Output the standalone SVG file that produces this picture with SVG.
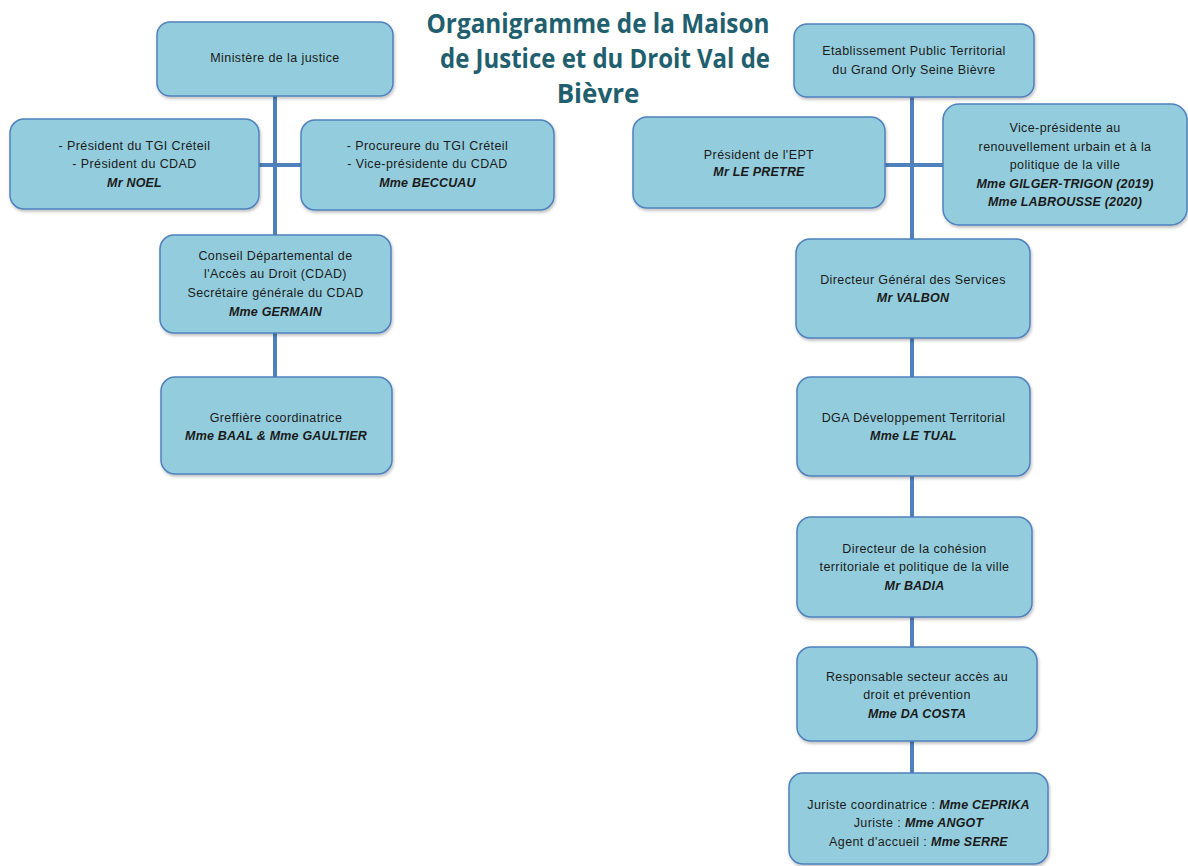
<svg xmlns="http://www.w3.org/2000/svg" width="1188" height="866" viewBox="0 0 1188 866">
<defs>
<filter id="sh" x="-5%" y="-5%" width="110%" height="115%">
<feDropShadow dx="1" dy="2" stdDeviation="1.5" flood-color="#000" flood-opacity="0.25"/>
</filter>
<style>
.box{fill:#93cddd;stroke:#4f81bd;stroke-width:1.5;filter:url(#sh)}
.t{font-family:"Liberation Sans",Arial,sans-serif;font-size:12.5px;letter-spacing:0.4px;fill:#1a1a1a;text-anchor:middle}
.b{font-weight:bold;font-style:italic;letter-spacing:0.2px}
.con{stroke:#4f81bd;stroke-width:4;fill:none}
.title{font-family:"Open Sans","Liberation Sans",sans-serif;font-weight:bold;font-size:26px;fill:#215f6e;text-anchor:middle}
</style>
</defs>
<rect width="1188" height="866" fill="#fff"/>
<g id="title">
<text class="title" x="598" y="33" textLength="343" lengthAdjust="spacingAndGlyphs">Organigramme de la Maison</text>
<text class="title" x="605" y="68" textLength="330" lengthAdjust="spacingAndGlyphs">de Justice et du Droit Val de</text>
<text class="title" x="598" y="103">Bièvre</text>
</g>
<g id="connectors">
<line class="con" x1="275" y1="96" x2="275" y2="377"/>
<line class="con" x1="259" y1="165" x2="301" y2="165"/>
<line class="con" x1="912" y1="97" x2="912" y2="773"/>
<line class="con" x1="885" y1="165" x2="943" y2="165"/>
</g>
<g id="ministere">
<rect class="box" x="157" y="22" width="236" height="74" rx="13"/>
<text class="t" x="275" y="62">Ministère de la justice</text>
</g>
<g id="president-tgi">
<rect class="box" x="10" y="119" width="249" height="90" rx="14"/>
<text class="t" x="134.5" y="150">- Président du TGI Créteil</text>
<text class="t" x="134.5" y="168">- Président du CDAD</text>
<text class="t b" x="134.5" y="187">Mr NOEL</text>
</g>
<g id="procureure">
<rect class="box" x="301" y="120" width="253" height="90" rx="14"/>
<text class="t" x="427.5" y="150">- Procureure du TGI Créteil</text>
<text class="t" x="427.5" y="168">- Vice-présidente du CDAD</text>
<text class="t b" x="427.5" y="187">Mme  BECCUAU</text>
</g>
<g id="cdad">
<rect class="box" x="160" y="235" width="231" height="98" rx="14"/>
<text class="t" x="275.5" y="260">Conseil Départemental de</text>
<text class="t" x="275.5" y="278">l'Accès au Droit (CDAD)</text>
<text class="t" x="275.5" y="297">Secrétaire générale du CDAD</text>
<text class="t b" x="275.5" y="316">Mme  GERMAIN</text>
</g>
<g id="greffiere">
<rect class="box" x="161" y="377" width="231" height="97" rx="14"/>
<text class="t" x="276" y="422">Greffière coordinatrice</text>
<text class="t b" x="276" y="440">Mme  BAAL &amp; Mme  GAULTIER</text>
</g>
<g id="ept">
<rect class="box" x="794" y="24" width="240" height="73" rx="13"/>
<text class="t" x="914" y="55">Etablissement Public Territorial</text>
<text class="t" x="914" y="74">du Grand Orly Seine Bièvre</text>
</g>
<g id="president-ept">
<rect class="box" x="633" y="117" width="252" height="91" rx="14"/>
<text class="t" x="759" y="159">Président de l'EPT</text>
<text class="t b" x="759" y="176">Mr LE PRETRE</text>
</g>
<g id="vice-presidente">
<rect class="box" x="943" y="104" width="244" height="121" rx="16"/>
<text class="t" x="1065" y="132">Vice-présidente au</text>
<text class="t" x="1065" y="151">renouvellement urbain et à la</text>
<text class="t" x="1065" y="169">politique de la ville</text>
<text class="t b" x="1065" y="188">Mme  GILGER-TRIGON  (2019)</text>
<text class="t b" x="1065" y="206">Mme  LABROUSSE  (2020)</text>
</g>
<g id="dgs">
<rect class="box" x="796" y="239" width="234" height="99" rx="14"/>
<text class="t" x="913" y="284">Directeur Général des Services</text>
<text class="t b" x="913" y="302">Mr VALBON</text>
</g>
<g id="dga">
<rect class="box" x="797" y="377" width="233" height="99" rx="14"/>
<text class="t" x="913.5" y="422">DGA Développement  Territorial</text>
<text class="t b" x="913.5" y="440">Mme  LE TUAL</text>
</g>
<g id="directeur-cohesion">
<rect class="box" x="797" y="517" width="235" height="100" rx="14"/>
<text class="t" x="914.5" y="553">Directeur de la cohésion</text>
<text class="t" x="914.5" y="571">territoriale et politique de la ville</text>
<text class="t b" x="914.5" y="590">Mr BADIA</text>
</g>
<g id="responsable">
<rect class="box" x="797" y="647" width="240" height="94" rx="14"/>
<text class="t" x="917" y="681">Responsable secteur accès au</text>
<text class="t" x="917" y="699">droit  et prévention</text>
<text class="t b" x="917" y="718">Mme  DA COSTA</text>
</g>
<g id="juristes">
<rect class="box" x="789" y="773" width="259" height="91" rx="14"/>
<text class="t" x="918.5" y="809">Juriste coordinatrice : <tspan class="b">Mme  CEPRIKA</tspan></text>
<text class="t" x="918.5" y="827">Juriste : <tspan class="b">Mme  ANGOT</tspan></text>
<text class="t" x="918.5" y="846">Agent  d'accueil : <tspan class="b">Mme  SERRE</tspan></text>
</g>
</svg>
